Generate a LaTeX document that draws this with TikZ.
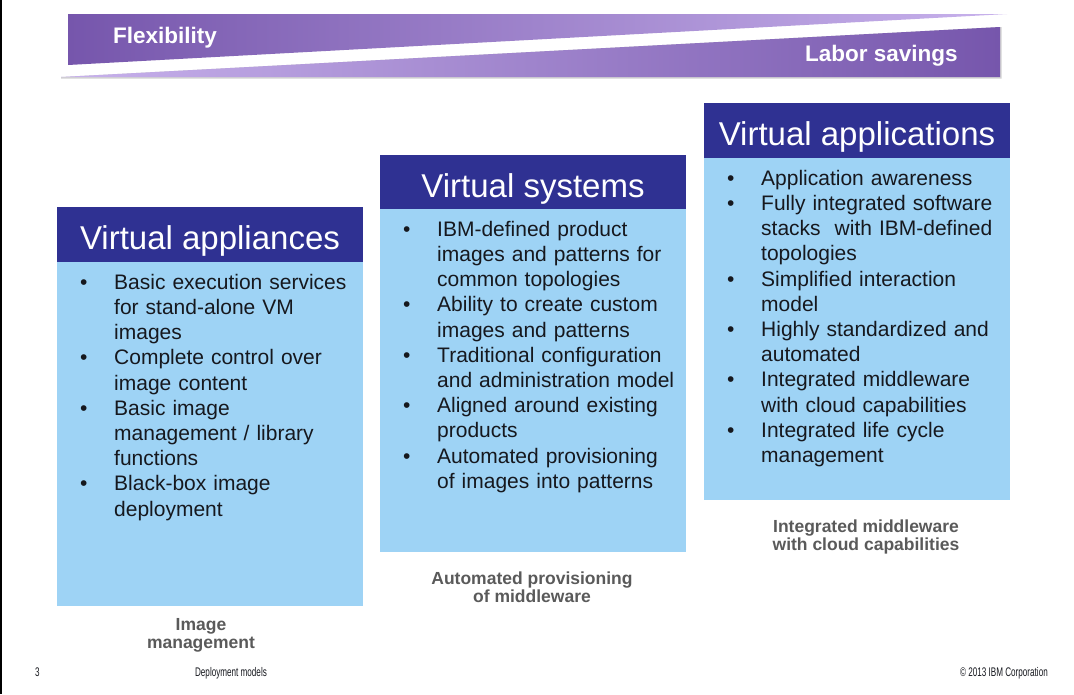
\documentclass[tikz,border=0pt]{standalone}
\usepackage{fontspec}
\setmainfont{Liberation Sans}
\newfontfamily\narrowfont[FakeStretch=0.65]{Liberation Sans}
\definecolor{hdrblue}{RGB}{47,49,146}
\definecolor{bodyblue}{RGB}{158,211,245}
\definecolor{textdark}{RGB}{22,24,30}
\definecolor{capgray}{RGB}{90,90,90}
\definecolor{purpdark}{RGB}{118,86,172}
\definecolor{purplight}{RGB}{200,178,236}
\newcommand\itemsetup{\raggedright\setlength{\parindent}{0pt}\setlength{\parskip}{0pt}}
\newcommand\bitem[1]{\noindent\hangindent=36pt\hangafter=1\makebox[36pt][l]{\rule{0pt}{16pt}\hspace{2pt}\textbullet}#1\par}
\begin{document}
\begin{tikzpicture}[x=1pt,y=-1pt,
  hdr/.style={fill=hdrblue, inner sep=0pt, outer sep=0pt, minimum width=306pt, minimum height=55pt, anchor=north west},
  bodybox/.style={fill=bodyblue, inner sep=0pt, outer sep=0pt, minimum width=306pt, anchor=north west},
  htitle/.style={text=white, font=\fontsize{33}{36}\selectfont, anchor=base, inner sep=0pt},
  items/.style={anchor=north west, inner sep=0pt, text width=300pt, font=\fontsize{21}{25.2}\selectfont, text=textdark},
  capt/.style={font=\bfseries\fontsize{17.5}{18.5}\selectfont, text=capgray, align=center, anchor=north, inner sep=0pt},
  bantext/.style={text=white, font=\bfseries\fontsize{22.5}{24}\selectfont, inner sep=0pt},
  foot/.style={font=\narrowfont\fontsize{12.5}{14}\selectfont, text=textdark, inner sep=0pt}
]
\useasboundingbox (0,0) rectangle (1074,694);
\fill[white] (0,0) rectangle (1074,694);
\draw[black, line width=1.5pt] (0.75,0) -- (0.75,694);

% banner
\fill[gray!35] (61,77) -- (1000,27) -- (1001.5,27) -- (1001.5,78.5) -- (61,78.5) -- cycle;
\shade[left color=purpdark, right color=purplight] (68,14) -- (1007,14) -- (68,65) -- cycle;
\shade[left color=purplight, right color=purpdark] (61,77) -- (1000,27) -- (1000,77) -- cycle;
\node[bantext, anchor=base west] (flex) at (113,43) {Flexibility};
\node[bantext, anchor=base west] (labor) at (805,61) {Labor savings};

% box 1
\node[hdr] (h1) at (57,207) {};
\node[bodybox, minimum height=344pt] (b1) at (57,262) {};
\node[htitle] (t1) at (210,249) {Virtual appliances};
\node[items] (i1) at (78,273) {\itemsetup
\bitem{Basic execution services\newline for stand-alone VM\newline images}%
\bitem{Complete control over\newline image content}%
\bitem{Basic image\newline management / library\newline functions}%
\bitem{Black-box image\newline deployment}};
\node[capt] (c1) at (201,617) {\rule{0pt}{13pt}Image\\management};

% box 2
\node[hdr] (h2) at (380,155) {};
\node[bodybox, minimum height=343pt] (b2) at (380,209) {};
\node[htitle] (t2) at (533,197) {Virtual systems};
\node[items] (i2) at (401,220) {\itemsetup
\bitem{IBM-defined product\newline images and patterns for\newline common topologies}%
\bitem{Ability to create custom\newline images and patterns}%
\bitem{Traditional configuration\newline and administration model}%
\bitem{Aligned around existing\newline products}%
\bitem{Automated provisioning\newline of images into patterns}};
\node[capt] (c2) at (532,571) {\rule{0pt}{13pt}Automated provisioning\\of middleware};

% box 3
\node[hdr] (h3) at (704,103) {};
\node[bodybox, minimum height=342pt] (b3) at (704,158) {};
\node[htitle] (t3) at (857,145) {Virtual applications};
\node[items] (i3) at (725,169) {\itemsetup
\bitem{Application awareness}%
\bitem{Fully integrated software\newline stacks\ \ with IBM-defined\newline topologies}%
\bitem{Simplified interaction\newline model}%
\bitem{Highly standardized and\newline automated}%
\bitem{Integrated middleware\newline with cloud capabilities}%
\bitem{Integrated life cycle\newline management}};
\node[capt] (c3) at (866,519) {\rule{0pt}{13pt}Integrated middleware\\with cloud capabilities};

% footer
\node[foot, anchor=base west] (pg) at (35,676) {3};
\node[foot, anchor=base] (dm) at (231,676) {Deployment models};
\node[foot, anchor=base east] (cp) at (1048,676) {© 2013 IBM Corporation};
\end{tikzpicture}
\end{document}
